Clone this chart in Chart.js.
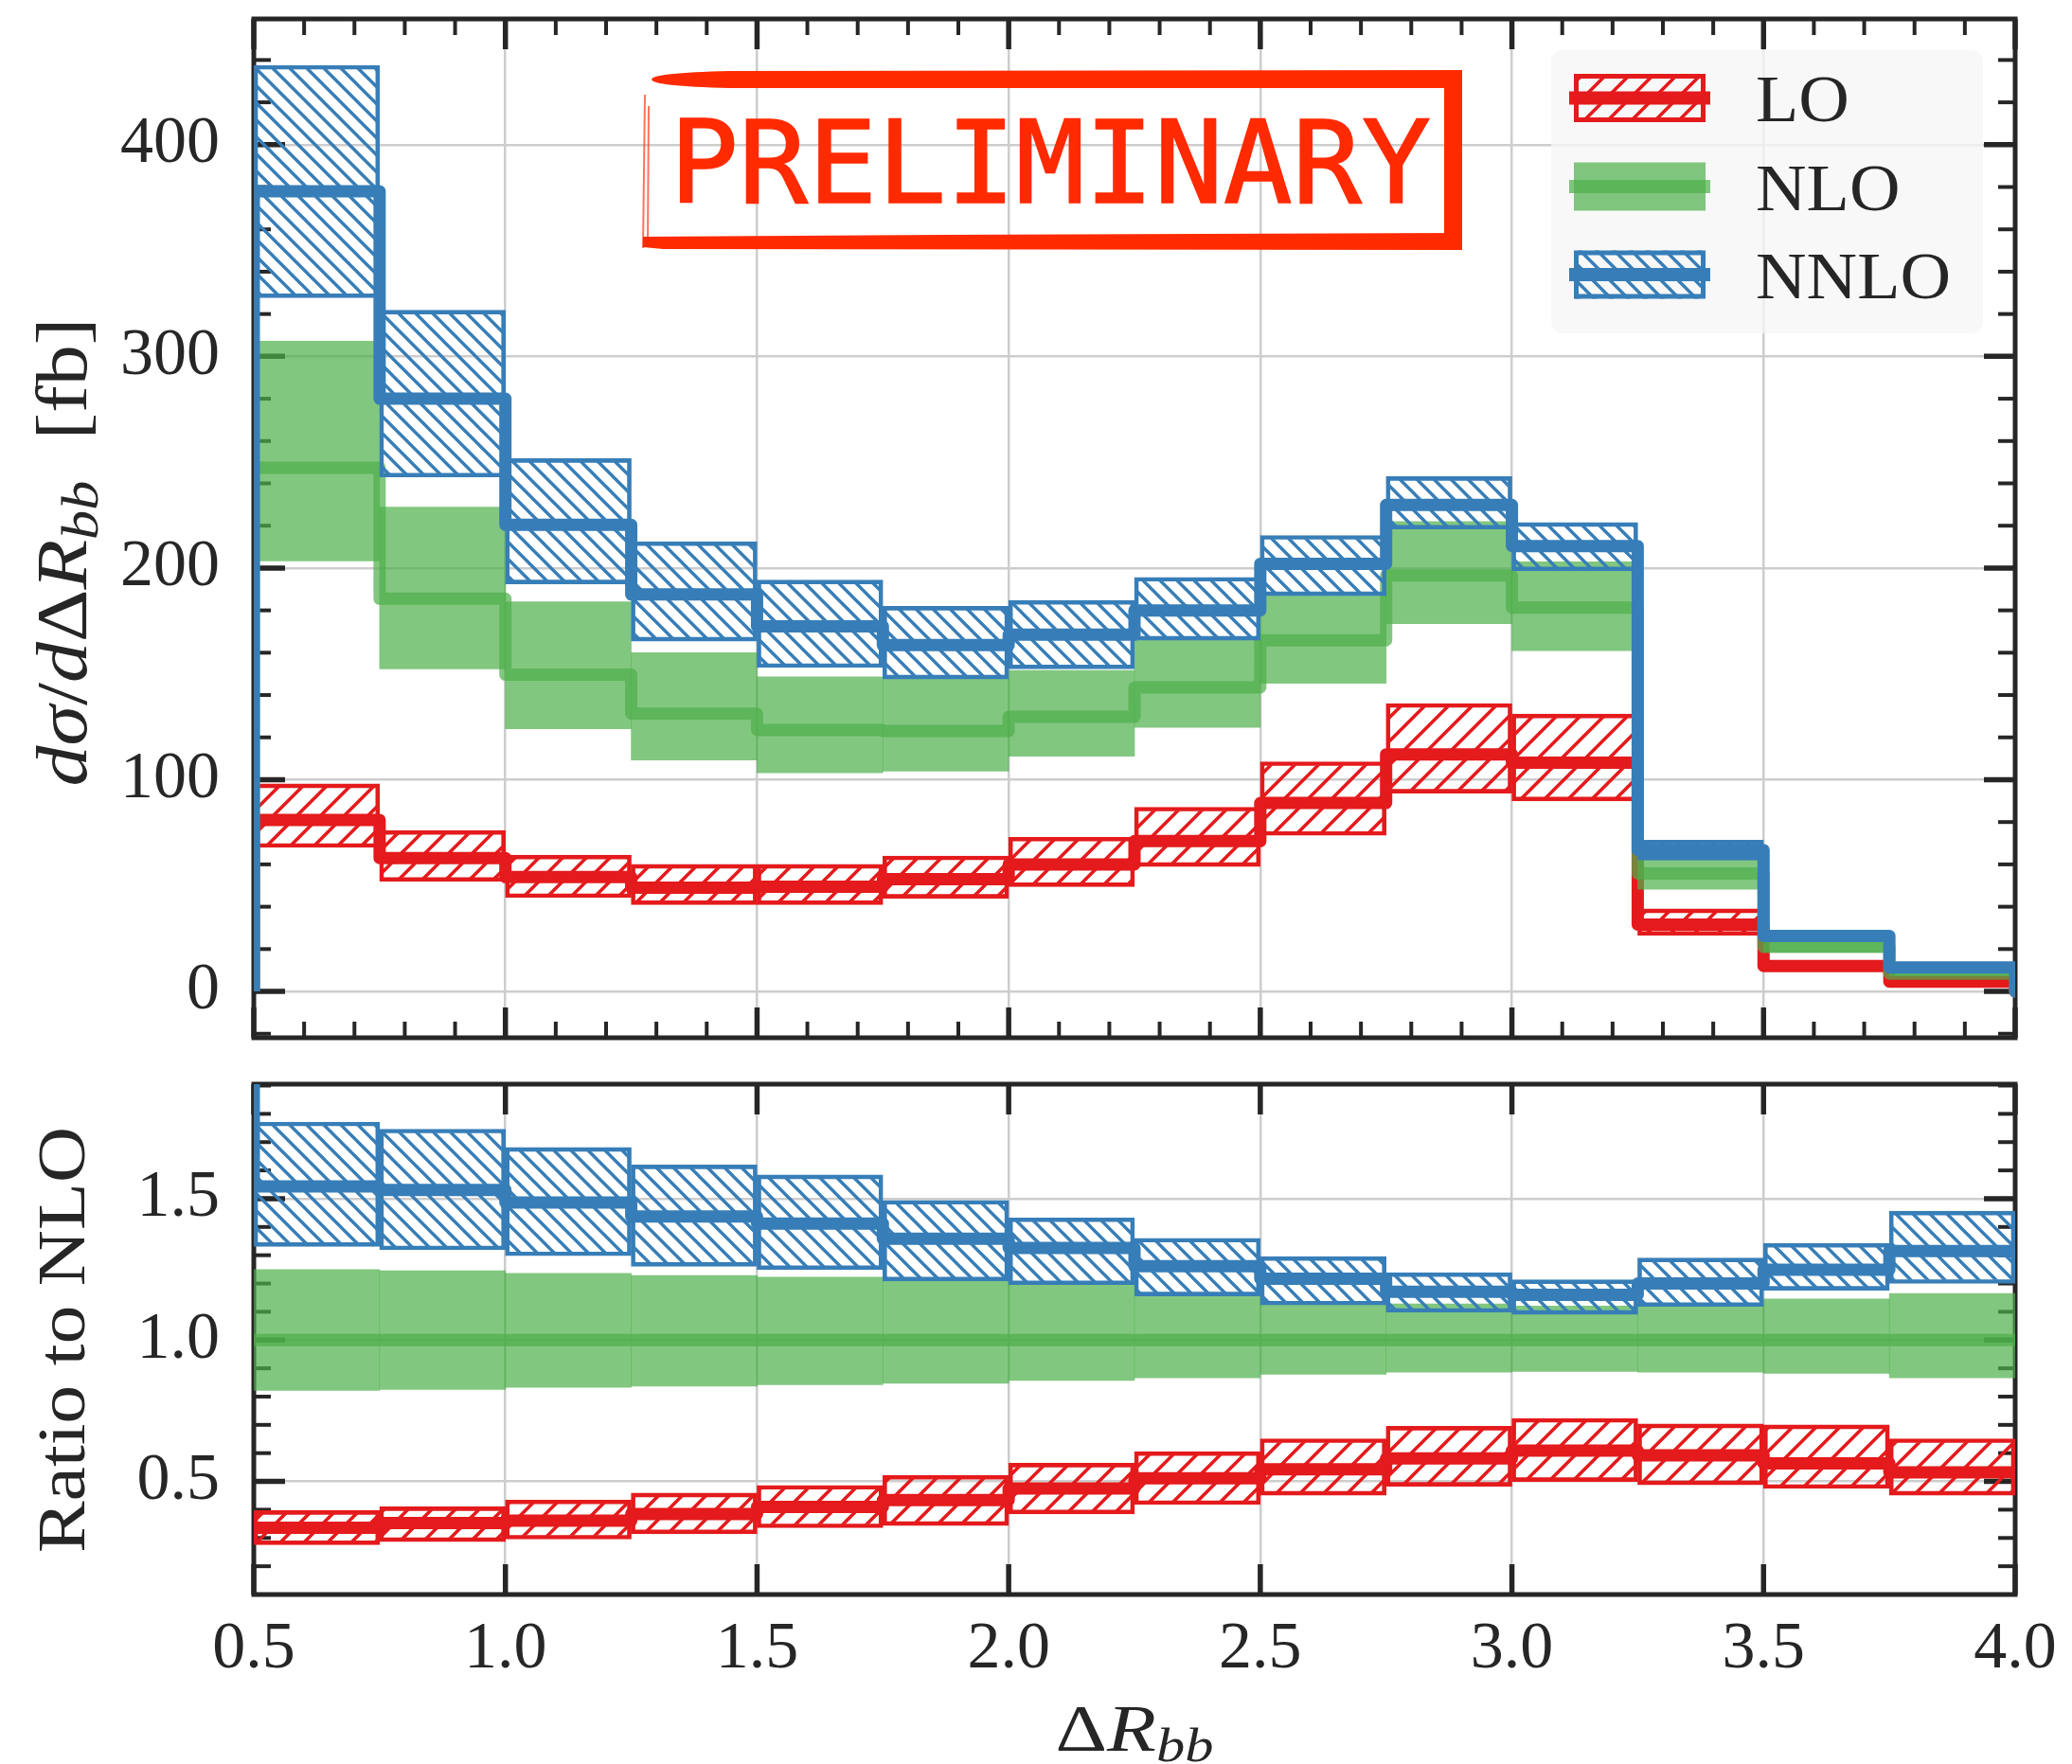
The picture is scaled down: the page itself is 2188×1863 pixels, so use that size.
<!DOCTYPE html>
<html>
<head>
<meta charset="utf-8">
<script src="https://cdn.jsdelivr.net/npm/chart.js@4.4.1/dist/chart.umd.min.js"></script>
<style>
html,body{margin:0;padding:0;background:#ffffff;}
#wrap{position:relative;width:2188px;height:1863px;overflow:hidden;}
#wrap canvas{position:absolute;left:0;top:0;}
</style>
</head>
<body>
<div id="wrap">
<canvas id="topChart" width="2188" height="1863" style="width:2188px;height:1863px"></canvas>
<canvas id="ratioChart" width="2188" height="1863" style="width:2188px;height:1863px"></canvas>
</div>
<script>
// ---------------- data ----------------
const edges = [0.5, 0.75, 1.0, 1.25, 1.5, 1.75, 2.0, 2.25, 2.5, 2.75, 3.0, 3.25, 3.5, 3.75, 4.0];
const seriesNames = ['LO', 'NLO', 'NNLO'];

const loCentral = [81, 63, 54, 49, 49.5, 53, 60, 71, 89, 112, 108, 31.6, 12, 4.6];
const loLow     = [68, 52, 44.3, 41, 41, 44, 49.5, 59, 73.7, 93.7, 90, 26.5, 10.3, 3.9];
const loHigh    = [98, 76, 64.4, 60, 60, 64, 72.8, 87, 108.5, 136, 131, 39, 14.3, 5.6];

const nloCentral = [247.4, 185.5, 149.6, 131.2, 123.5, 123, 129.7, 143.6, 165.9, 196.5, 181.3, 55.7, 21, 8.4];
const nloLow     = [203.4, 152.4, 124.1, 109.3, 103.3, 104, 111.1, 124.7, 145.5, 173.7, 161, 48.3, 18.5, 7.3];
const nloHigh    = [307.2, 228.8, 184.1, 160, 148.6, 148, 151.6, 166, 188, 222, 203, 63, 23.5, 9.6];

const nnloCentral = [378, 280, 220.4, 187.5, 172.5, 163.6, 168.5, 180, 202, 229.8, 210.4, 66.8, 26.2, 11.3];
const nnloLow     = [327.7, 243, 192.5, 165.5, 153, 147.6, 152.4, 165.9, 186.9, 218.4, 198.7, 62, 25, 10.6];
const nnloHigh    = [437.5, 321.8, 251.7, 212.4, 194.3, 181.9, 184.7, 195.6, 215.4, 243.2, 221.5, 71.4, 27.6, 12];

const ratioLoCentral = [0.336, 0.353, 0.361, 0.385, 0.410, 0.434, 0.475, 0.511, 0.543, 0.581, 0.609, 0.592, 0.564, 0.532];
const ratioLoLow     = [0.276, 0.287, 0.296, 0.315, 0.336, 0.344, 0.385, 0.418, 0.451, 0.483, 0.500, 0.488, 0.475, 0.451];
const ratioLoHigh    = [0.397, 0.410, 0.434, 0.459, 0.486, 0.521, 0.564, 0.605, 0.651, 0.695, 0.723, 0.703, 0.700, 0.651];

const ratioNloCentral = [1, 1, 1, 1, 1, 1, 1, 1, 1, 1, 1, 1, 1, 1];
const ratioNloLow     = [0.822, 0.825, 0.833, 0.837, 0.842, 0.847, 0.857, 0.866, 0.879, 0.886, 0.889, 0.886, 0.882, 0.866];
const ratioNloHigh    = [1.249, 1.245, 1.236, 1.228, 1.222, 1.213, 1.195, 1.160, 1.135, 1.128, 1.120, 1.130, 1.145, 1.165];

const ratioNnloCentral = [1.543, 1.531, 1.486, 1.437, 1.412, 1.358, 1.326, 1.261, 1.217, 1.171, 1.160, 1.200, 1.249, 1.315];
const ratioNnloLow     = [1.331, 1.319, 1.298, 1.261, 1.249, 1.209, 1.196, 1.156, 1.124, 1.098, 1.091, 1.119, 1.176, 1.200];
const ratioNnloHigh    = [1.771, 1.746, 1.681, 1.619, 1.584, 1.494, 1.432, 1.360, 1.295, 1.238, 1.213, 1.290, 1.342, 1.456];

const xTicks = [0.5, 1.0, 1.5, 2.0, 2.5, 3.0, 3.5, 4.0];
const xTickLabels = ['0.5', '1.0', '1.5', '2.0', '2.5', '3.0', '3.5', '4.0'];
const yTicksTop = [0, 100, 200, 300, 400];
const yTickLabelsTop = ['0', '100', '200', '300', '400'];
const yTicksRatio = [0.5, 1.0, 1.5];
const yTickLabelsRatio = ['0.5', '1.0', '1.5'];

const topRange = {min: -21.9, max: 459.4};
const ratioRange = {min: 0.1, max: 1.905};

// ---------------- style ----------------
const INK = '#262626';
const GRID = '#cdcdcd';
const RED = '#e41a1c';
const BLUE = '#377eb8';
const GREEN = 'rgba(77,175,74,0.7)';
const STAMP = '#ff2a00';
const SERIF = '"Liberation Serif", "DejaVu Serif", serif';
const TICK_FONT = {family: SERIF, size: 70};

Chart.defaults.font.family = SERIF;
Chart.defaults.color = INK;

function hatchPattern(ctx, color, period, lw, dir) {
  const c = document.createElement('canvas');
  c.width = period; c.height = period;
  const g = c.getContext('2d');
  g.strokeStyle = color; g.lineWidth = lw; g.lineCap = 'butt';
  g.beginPath();
  for (let k = -1; k <= 1; k++) {
    if (dir === '/') { g.moveTo(k * period - 2, period + 2); g.lineTo(k * period + period + 2, -2); }
    else { g.moveTo(k * period - 2, -2); g.lineTo(k * period + period + 2, period + 2); }
  }
  g.stroke();
  return ctx.createPattern(c, 'repeat');
}

function stairs(vals, startY, endY) {
  const pts = [];
  if (startY !== null) pts.push({x: edges[0], y: startY});
  vals.forEach((v, i) => { pts.push({x: edges[i], y: v}); pts.push({x: edges[i + 1], y: v}); });
  if (endY !== null) pts.push({x: edges[edges.length - 1], y: endY});
  return pts;
}
function band(lo, hi) {
  return lo.map((l, i) => ({x: (edges[i] + edges[i + 1]) / 2, y: [l, hi[i]]}));
}
function lineDs(label, data, color, order) {
  return {type: 'line', label, data, borderColor: color, borderWidth: 13, pointRadius: 0,
    borderJoinStyle: 'round', borderCapStyle: 'butt', tension: 0, fill: false, order};
}
function bandDs(label, data, fillStyle, edge, order) {
  return {type: 'bar', label, data, backgroundColor: fillStyle, borderColor: edge || 'rgba(0,0,0,0)',
    borderWidth: edge ? 4 : 0, borderSkipped: false, grouped: false, barPercentage: 1, categoryPercentage: 1, order};
}
function labelFrom(values, labels) {
  return v => { const i = values.findIndex(t => Math.abs(t - v) < 1e-9); return i >= 0 ? labels[i] : ''; };
}

// inward ticks + frame
const frameTicks = {
  id: 'frameTicks',
  beforeDatasetsDraw(chart, args, o) {
    const {ctx, chartArea: a, scales: {x, y}} = chart;
    ctx.save();
    ctx.strokeStyle = INK; ctx.lineCap = 'butt';
    const seg = (x1, y1, x2, y2, w) => { ctx.lineWidth = w; ctx.beginPath(); ctx.moveTo(x1, y1); ctx.lineTo(x2, y2); ctx.stroke(); };
    if (o.xMinor) for (let v = x.min; v <= x.max + 1e-9; v += o.xMinor) {
      const p = x.getPixelForValue(v); seg(p, a.bottom, p, a.bottom - 17, 4); seg(p, a.top, p, a.top + 17, 4);
    }
    for (let v = y.min - (y.min % o.yMinor) ; v <= y.max + 1e-9; v += o.yMinor) {
      if (v < y.min) continue;
      const p = y.getPixelForValue(v); seg(a.left, p, a.left + 18, p, 4); seg(a.right, p, a.right - 18, p, 4);
    }
    xTicks.forEach(v => { const p = x.getPixelForValue(v); seg(p, a.bottom, p, a.bottom - 32, 5.5); seg(p, a.top, p, a.top + 32, 5.5); });
    o.yMajor.forEach(v => { const p = y.getPixelForValue(v); seg(a.left, p, a.left + 33, p, 5.5); seg(a.right, p, a.right - 33, p, 5.5); });
    ctx.lineWidth = 5; ctx.lineJoin = 'miter';
    ctx.strokeRect(a.left, a.top, a.right - a.left, a.bottom - a.top);
    ctx.restore();
  }
};

function drawRuns(ctx, runs, x, y, rot, size, target) {
  ctx.save();
  ctx.translate(x, y); ctx.rotate(rot);
  const fontOf = r => (r.it ? 'italic ' : '') + (r.sub ? Math.round(size * 0.72) : size) + 'px ' + SERIF;
  const w = runs.map(r => { ctx.font = fontOf(r); return ctx.measureText(r.t).width; });
  const total = w.reduce((s, v) => s + v, 0);
  if (target) ctx.scale(target / total, 1);
  let cx = -total / 2;
  ctx.fillStyle = INK; ctx.textBaseline = 'alphabetic'; ctx.textAlign = 'left';
  runs.forEach((r, i) => { ctx.font = fontOf(r); ctx.fillText(r.t, cx, r.sub ? size * 0.16 : 0); cx += w[i]; });
  ctx.restore();
}

const yTitleRuns = [{t: 'd', it: 1}, {t: 'σ', it: 1}, {t: '/', it: 0}, {t: 'd', it: 1}, {t: 'Δ', it: 0},
  {t: 'R', it: 1}, {t: 'bb', it: 1, sub: 1}, {t: '  [fb]', it: 0}];
const ratioTitleRuns = [{t: 'Ratio to NLO', it: 0}];
const xTitleRuns = [{t: 'Δ', it: 0}, {t: 'R', it: 1}, {t: 'bb', it: 1, sub: 1}];

const topCtx = document.getElementById('topChart').getContext('2d');
const ratioCtx = document.getElementById('ratioChart').getContext('2d');
const redHatchTop = hatchPattern(topCtx, RED, 25, 3.6, '/');
const blueHatchTop = hatchPattern(topCtx, BLUE, 18, 3.4, '\\');
const redHatchRatio = hatchPattern(ratioCtx, RED, 25, 3.6, '/');
const blueHatchRatio = hatchPattern(ratioCtx, BLUE, 18, 3.4, '\\');

const decorations = {
  id: 'decorations',
  afterDraw(chart) {
    const ctx = chart.ctx;
    drawRuns(ctx, yTitleRuns, 91, 583, -Math.PI / 2, 76, 495);
    // stamp
    ctx.save();
    ctx.fillStyle = STAMP; ctx.strokeStyle = STAMP;
    ctx.beginPath();
    ctx.moveTo(1544, 74); ctx.lineTo(770, 75);
    ctx.quadraticCurveTo(688, 77, 688, 84);
    ctx.quadraticCurveTo(690, 91, 770, 93);
    ctx.lineTo(1544, 93); ctx.closePath(); ctx.fill();
    ctx.fillRect(1525, 74, 19, 190);
    ctx.beginPath();
    ctx.moveTo(679, 250); ctx.lineTo(1000, 248); ctx.lineTo(1544, 246); ctx.lineTo(1544, 264);
    ctx.lineTo(700, 263); ctx.lineTo(679, 261); ctx.closePath(); ctx.fill();
    ctx.globalAlpha = 0.65; ctx.lineWidth = 2;
    ctx.beginPath(); ctx.moveTo(681, 100); ctx.lineTo(679, 262); ctx.moveTo(685, 112); ctx.lineTo(684, 258); ctx.stroke();
    ctx.globalAlpha = 1;
    ctx.font = '122px "DejaVu Sans Mono", monospace';
    ctx.textBaseline = 'alphabetic'; ctx.textAlign = 'left';
    const tw = ctx.measureText('PRELIMINARY').width;
    ctx.translate(707, 214); ctx.scale(804 / tw, 1);
    ctx.fillText('PRELIMINARY', 0, 0);
    ctx.lineWidth = 1.5; ctx.strokeText('PRELIMINARY', 0, 0);
    ctx.restore();
    // legend
    ctx.save();
    ctx.fillStyle = 'rgba(246,246,246,0.78)';
    ctx.beginPath();
    if (ctx.roundRect) ctx.roundRect(1638, 53, 456, 299, 12); else ctx.rect(1638, 53, 456, 299);
    ctx.fill();
    const rows = [
      {fill: redHatchTop, edge: RED, line: RED},
      {fill: GREEN, edge: null, line: GREEN},
      {fill: blueHatchTop, edge: BLUE, line: BLUE}
    ];
    const cys = [103.5, 197, 290];
    rows.forEach((r, i) => {
      const cy = cys[i];
      ctx.fillStyle = r.fill; ctx.fillRect(1662, cy - 25.5, 139, 51);
      if (r.edge) { ctx.strokeStyle = r.edge; ctx.lineWidth = 5; ctx.strokeRect(1664.5, cy - 23, 134, 46); }
      ctx.fillStyle = r.line; ctx.fillRect(1657, cy - 7, 149, 14);
      ctx.save();
      ctx.fillStyle = INK; ctx.font = '70px ' + SERIF; ctx.textBaseline = 'alphabetic';
      ctx.translate(1854, cy + 24.5); ctx.scale(1.06, 1);
      ctx.fillText(seriesNames[i], 0, 0);
      ctx.restore();
    });
    ctx.restore();
  }
};

const ratioTitles = {
  id: 'ratioTitles',
  afterDraw(chart) {
    const ctx = chart.ctx;
    drawRuns(ctx, ratioTitleRuns, 89, 1415, -Math.PI / 2, 72, 450);
    drawRuns(ctx, xTitleRuns, 1198, 1849, 0, 70, 167);
  }
};

function baseOptions(padTop, padBottom, xHeight, yRange, yTicks, yLabels, showX, frameOpts, pluginsExtra) {
  return {
    responsive: false, animation: false, devicePixelRatio: 1,
    layout: {padding: {left: 0, right: 60, top: padTop, bottom: padBottom}},
    plugins: Object.assign({legend: {display: false}, tooltip: {enabled: false}, frameTicks: frameOpts}, pluginsExtra || {}),
    scales: {
      x: {
        type: 'linear', min: 0.5, max: 4.0, bounds: 'data', offset: false,
        grid: {color: GRID, lineWidth: 2.5, drawTicks: false, offset: false},
        border: {display: false},
        ticks: {display: showX, autoSkip: false, maxRotation: 0, font: TICK_FONT, color: INK, padding: 17,
          callback: labelFrom(xTicks, xTickLabels)},
        afterBuildTicks: s => { s.ticks = xTicks.map(v => ({value: v})); },
        afterFit: s => { s.height = xHeight; s.paddingLeft = 0; s.paddingRight = 0; }
      },
      y: {
        type: 'linear', min: yRange.min, max: yRange.max, bounds: 'data',
        grid: {color: GRID, lineWidth: 2.5, drawTicks: false},
        border: {display: false},
        ticks: {font: TICK_FONT, color: INK, padding: 36, callback: labelFrom(yTicks, yLabels)},
        afterBuildTicks: s => { s.ticks = yTicks.map(v => ({value: v})); },
        afterFit: s => { s.width = 268; s.paddingTop = 0; s.paddingBottom = 0; }
      }
    }
  };
}

new Chart(topCtx, {
  type: 'bar',
  data: {
    datasets: [
      lineDs(seriesNames[2], stairs(nnloCentral, 0, 0), BLUE, 0),
      bandDs(seriesNames[2] + ' band', band(nnloLow, nnloHigh), blueHatchTop, BLUE, 1),
      lineDs(seriesNames[1], stairs(nloCentral, 0, 0), GREEN, 2),
      bandDs(seriesNames[1] + ' band', band(nloLow, nloHigh), GREEN, null, 3),
      lineDs(seriesNames[0], stairs(loCentral, 0, 0), RED, 4),
      bandDs(seriesNames[0] + ' band', band(loLow, loHigh), redHatchTop, RED, 5)
    ]
  },
  options: baseOptions(20, 767, 0, topRange, yTicksTop, yTickLabelsTop, false,
    {xMinor: 0.1, yMinor: 20, yMajor: yTicksTop}),
  plugins: [frameTicks, decorations]
});

new Chart(ratioCtx, {
  type: 'bar',
  data: {
    datasets: [
      lineDs(seriesNames[2], stairs(ratioNnloCentral, ratioRange.max, null), BLUE, 0),
      bandDs(seriesNames[2] + ' band', band(ratioNnloLow, ratioNnloHigh), blueHatchRatio, BLUE, 1),
      lineDs(seriesNames[1], stairs(ratioNloCentral, null, null), GREEN, 2),
      bandDs(seriesNames[1] + ' band', band(ratioNloLow, ratioNloHigh), GREEN, null, 3),
      lineDs(seriesNames[0], stairs(ratioLoCentral, null, null), RED, 4),
      bandDs(seriesNames[0] + ' band', band(ratioLoLow, ratioLoHigh), redHatchRatio, RED, 5)
    ]
  },
  options: baseOptions(1145, 0, 179, ratioRange, yTicksRatio, yTickLabelsRatio, true,
    {xMinor: 0, yMinor: 0.1, yMajor: yTicksRatio}),
  plugins: [frameTicks, ratioTitles]
});
</script>
</body>
</html>
